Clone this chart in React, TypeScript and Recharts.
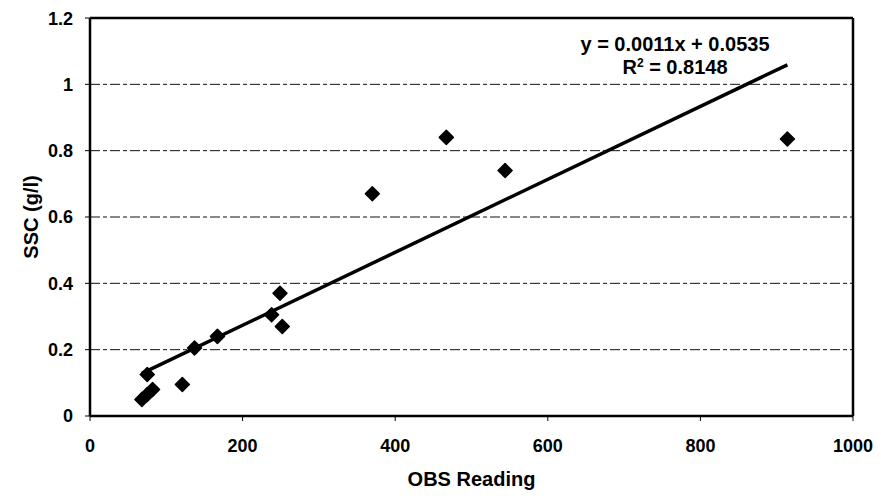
import {
  ScatterChart,
  Scatter,
  XAxis,
  YAxis,
  CartesianGrid,
  ReferenceLine,
} from 'recharts'

// OBS readings and matching suspended sediment concentration
const obsReading = [68, 75, 82, 75, 121, 137, 167, 238, 249, 252, 370, 467, 544, 914]
const sscValues = [0.05, 0.065, 0.08, 0.125, 0.095, 0.205, 0.24, 0.305, 0.37, 0.27, 0.67, 0.84, 0.74, 0.835]

const xTicks = [0, 200, 400, 600, 800, 1000]
const yTicks = [0, 0.2, 0.4, 0.6, 0.8, 1, 1.2]

// linear fit shown on the chart
const slope = 0.0011
const intercept = 0.0535

const points = obsReading.map((x, i) => ({ x, y: sscValues[i] }))
const xMin = Math.min(...obsReading)
const xMax = Math.max(...obsReading)
const trend = [
  { x: xMin, y: slope * xMin + intercept },
  { x: xMax, y: slope * xMax + intercept },
]

const font = '"Liberation Sans", Arial, sans-serif'
const tickStyle = { fontSize: 18, fontWeight: 700, fill: '#000', fontFamily: font }
const titleStyle = { fontSize: 20, fontWeight: 700, fill: '#000', fontFamily: font }

const Diamond = (props: any) => {
  const { cx, cy } = props
  const r = 7
  return (
    <path
      d={`M${cx},${cy - r} L${cx + r},${cy} L${cx},${cy + r} L${cx - r},${cy} Z`}
      fill="#000"
      stroke="#000"
      strokeWidth={1.5}
      strokeLinejoin="round"
    />
  )
}

export default function App() {
  return (
    <div style={{ position: 'relative', width: 865, height: 484, fontFamily: font }}>
      <ScatterChart
        width={865}
        height={484}
        margin={{ top: 10, right: 20, bottom: 0, left: 0 }}
      >
        <CartesianGrid
          vertical={false}
          horizontalValues={[0.2, 0.4, 0.6, 0.8, 1]}
          stroke="#111"
          strokeDasharray="10 3 4 3"
        />
        <XAxis
          type="number"
          dataKey="x"
          domain={[0, 1000]}
          ticks={xTicks}
          height={76}
          tick={tickStyle}
          tickSize={5}
          tickMargin={18}
          axisLine={{ stroke: '#000', strokeWidth: 2.5 }}
          tickLine={{ stroke: '#000' }}
          label={{
            value: 'OBS Reading',
            position: 'insideBottom',
            offset: 6,
            style: titleStyle,
          }}
        />
        <YAxis
          type="number"
          dataKey="y"
          domain={[0, 1.2]}
          ticks={yTicks}
          width={82}
          tick={tickStyle}
          tickSize={5}
          tickMargin={12}
          axisLine={{ stroke: '#000', strokeWidth: 2.5 }}
          tickLine={{ stroke: '#000' }}
          label={{
            value: 'SSC (g/l)',
            angle: -90,
            position: 'insideLeft',
            offset: 23,
            style: { ...titleStyle, textAnchor: 'middle' },
          }}
        />
        <ReferenceLine y={1.2} stroke="#000" strokeWidth={2.5} />
        <ReferenceLine x={1000} stroke="#000" strokeWidth={2.5} />
        <ReferenceLine
          segment={trend}
          stroke="#000"
          strokeWidth={3.5}
          ifOverflow="visible"
        />
        <Scatter data={points} shape={Diamond} isAnimationActive={false} />
      </ScatterChart>
      <div
        style={{
          position: 'absolute',
          left: 557,
          top: 25,
          width: 220,
          textAlign: 'center',
          fontSize: 20,
          fontWeight: 700,
          lineHeight: '23px',
        }}
      >
        <div>y = 0.0011x + 0.0535</div>
        <div>
          R<sup style={{ fontSize: 12, verticalAlign: 'top', lineHeight: '14px' }}>2</sup> = 0.8148
        </div>
      </div>
    </div>
  )
}
